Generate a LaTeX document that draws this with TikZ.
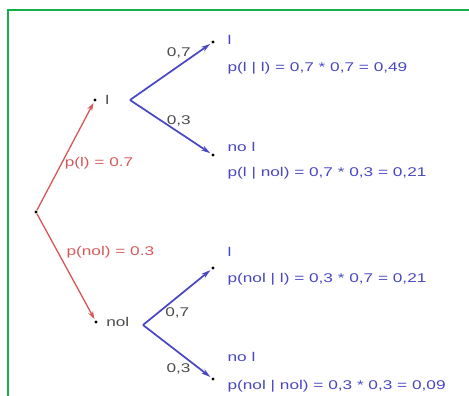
\documentclass[tikz,border=0pt]{standalone}
\usepackage{fontspec}
\setmainfont[FakeStretch=1.36]{Liberation Sans}
\usetikzlibrary{positioning, arrows.meta}
\definecolor{treered}{RGB}{214,90,90}
\definecolor{treeblue}{RGB}{72,72,196}
\definecolor{framegreen}{RGB}{20,175,75}

\begin{document}
\begin{tikzpicture}[
    x=0.75pt, y=-0.75pt, font=\fontsize{9.5}{11}\selectfont, >=Stealth,
    dot/.style      ={circle, fill=black, inner sep=0pt, minimum size=2.6pt},
    red_edge/.style ={treered, line width=1pt, -{Stealth[length=6pt, width=4pt]}, shorten >=1pt},
    blue_edge/.style={treeblue, line width=1.3pt, -{Stealth[length=7pt, width=4pt]}, shorten >=1pt},
    state/.style    ={text=treeblue, inner sep=1pt, anchor=west},
    result/.style   ={text=treeblue, inner sep=1pt, anchor=west},
    first/.style    ={text=treered, inner sep=1pt, anchor=west},
    branch/.style   ={text=black!70, inner sep=1pt}
]
\useasboundingbox (0,0) rectangle (469,396);
\clip (0,0) rectangle (469,396);

% Frame
\draw[framegreen, line width=1.5pt] (8,420) -- (8,10) -- (490,10);

% First level
\node[dot] (root) at (36,212) {};
\node[dot] (l) at (95,100) {};
\node[dot] (nol) at (96,322) {};
\node[branch, right=5pt of l] (l_lab) {l};
\node[branch, right=5pt of nol] (nol_lab) {nol};

\draw[red_edge] (root) -- (l)
    node[first, pos=0.43, xshift=1pt] {p(l) = 0.7};
\draw[red_edge] (root) -- (nol)
    node[first, pos=0.36, xshift=5pt] {p(nol) = 0.3};

% Second level
\coordinate (l_fork) at (130,100);
\coordinate (nol_fork) at (143,325);
\node[dot] (l_l) at (213,42) {};
\node[dot] (l_nol) at (213,155) {};
\node[dot] (nol_l) at (213,268) {};
\node[dot] (nol_nol) at (213,379) {};

\draw[blue_edge] (l_fork) -- (l_l) node[branch, pos=0.6, above=4pt] {0,7};
\draw[blue_edge] (l_fork) -- (l_nol) node[branch, pos=0.6, above=3pt] {0,3};
\draw[blue_edge] (nol_fork) -- (nol_l) node[branch, pos=0.5, below=6pt] {0,7};
\draw[blue_edge] (nol_fork) -- (nol_nol) node[branch, pos=0.52, below=7pt] {0,3};

% Outcomes
\node[state] (l_l_lab) at (226,40) {l};
\node[result] (l_l_p) at (226,68) {p(l | l) = 0,7 * 0,7 = 0,49};
\node[state] (l_nol_lab) at (226,147) {no l};
\node[result] (l_nol_p) at (226,173) {p(l | nol) = 0,7 * 0,3 = 0,21};
\node[state] (nol_l_lab) at (226,252) {l};
\node[result] (nol_l_p) at (226,279) {p(nol | l) = 0,3 * 0,7 = 0,21};
\node[state] (nol_nol_lab) at (226,357) {no l};
\node[result] (nol_nol_p) at (226,386) {p(nol | nol) = 0,3 * 0,3 = 0,09};
\end{tikzpicture}
\end{document}
